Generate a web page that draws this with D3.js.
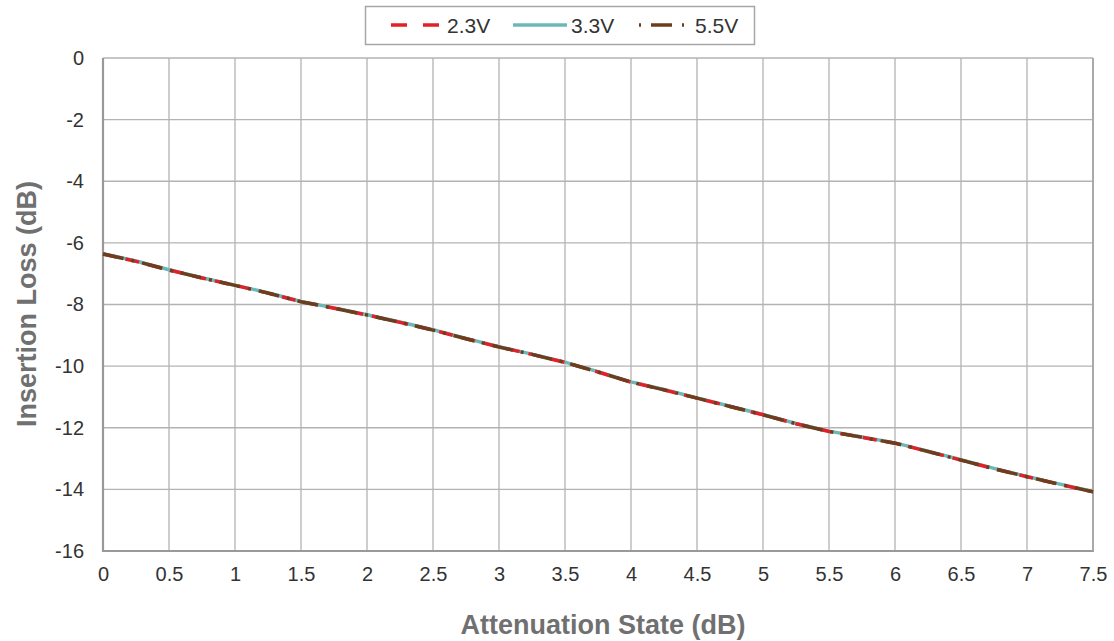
<!DOCTYPE html>
<html><head><meta charset="utf-8">
<script src="https://cdn.jsdelivr.net/npm/d3@7"></script>
<style>body{margin:0;background:#fff;} svg{display:block;font-family:"Liberation Sans",Arial,sans-serif;}</style>
</head><body>
<svg id="c" width="1114" height="641"></svg>
<script>
const states = [0,0.25,0.5,0.75,1,1.25,1.5,1.75,2,2.25,2.5,2.75,3,3.25,3.5,3.75,4,4.25,4.5,4.75,5,5.25,5.5,5.75,6,6.25,6.5,6.75,7,7.25,7.5];
const loss23 = [-6.36,-6.60,-6.88,-7.14,-7.38,-7.63,-7.91,-8.12,-8.34,-8.58,-8.83,-9.11,-9.38,-9.62,-9.88,-10.19,-10.52,-10.77,-11.04,-11.31,-11.58,-11.87,-12.12,-12.31,-12.50,-12.77,-13.05,-13.33,-13.59,-13.84,-14.08];
const loss33 = [-6.35,-6.59,-6.87,-7.13,-7.37,-7.62,-7.90,-8.11,-8.33,-8.57,-8.82,-9.10,-9.37,-9.61,-9.87,-10.18,-10.51,-10.76,-11.03,-11.30,-11.57,-11.86,-12.11,-12.30,-12.49,-12.76,-13.04,-13.32,-13.58,-13.83,-14.07];
const loss55 = [-6.36,-6.60,-6.88,-7.14,-7.38,-7.63,-7.91,-8.12,-8.34,-8.58,-8.83,-9.11,-9.38,-9.62,-9.88,-10.19,-10.52,-10.77,-11.04,-11.31,-11.58,-11.87,-12.12,-12.31,-12.50,-12.77,-13.05,-13.33,-13.59,-13.84,-14.08];
const xTicks = [0,0.5,1,1.5,2,2.5,3,3.5,4,4.5,5,5.5,6,6.5,7,7.5];
const yTicks = [0,-2,-4,-6,-8,-10,-12,-14,-16];
const seriesNames = ["2.3V","3.3V","5.5V"];
const xTitle = "Attenuation State (dB)";
const yTitle = "Insertion Loss (dB)";

const svg = d3.select("#c");
const L=103,R=1093,T=58,B=551;
const x = d3.scaleLinear().domain([0,7.5]).range([L,R]);
const y = d3.scaleLinear().domain([-16,0]).range([B,T]);

// grid
const g = svg.append("g");
g.selectAll(".vx").data(xTicks).enter().append("line")
  .attr("x1",d=>x(d)).attr("x2",d=>x(d)).attr("y1",T).attr("y2",B)
  .attr("stroke","#b3b3b3").attr("stroke-width",1.3);
g.selectAll(".hy").data(yTicks).enter().append("line")
  .attr("y1",d=>y(d)).attr("y2",d=>y(d)).attr("x1",L).attr("x2",R)
  .attr("stroke","#b3b3b3").attr("stroke-width",1.3);
// axes lines
svg.append("line").attr("x1",L).attr("x2",L).attr("y1",T).attr("y2",B+1).attr("stroke","#999").attr("stroke-width",2.2);
svg.append("line").attr("x1",L-1).attr("x2",R+1).attr("y1",B).attr("y2",B).attr("stroke","#999").attr("stroke-width",2.2);
svg.append("line").attr("x1",R).attr("x2",R).attr("y1",T).attr("y2",B).attr("stroke","#a6a6a6").attr("stroke-width",1.8);

// tick labels via axes
const xa = svg.append("g").attr("transform",`translate(0,${B})`)
  .call(d3.axisBottom(x).tickValues(xTicks).tickSize(0).tickPadding(16).tickFormat(d3.format("")));
xa.select(".domain").remove();
xa.selectAll("text").attr("font-size",20).attr("fill","#333").attr("font-family","Liberation Sans, Arial, sans-serif");
const ya = svg.append("g").attr("transform",`translate(${L},0)`)
  .call(d3.axisLeft(y).tickValues(yTicks).tickSize(0).tickPadding(19).tickFormat(d=>d===0?"0":"-"+Math.abs(d)));
ya.select(".domain").remove();
ya.selectAll("text").attr("font-size",20).attr("fill","#333").attr("font-family","Liberation Sans, Arial, sans-serif");

// titles
svg.append("text").attr("x",603).attr("y",634).attr("text-anchor","middle")
  .attr("font-size",27).attr("font-weight","bold").attr("fill","#707070").text(xTitle);
svg.append("text").attr("transform","translate(36,304) rotate(-90)").attr("text-anchor","middle")
  .attr("font-size",27).attr("font-weight","bold").attr("fill","#707070").text(yTitle);

// lines
const line = d3.line().x((d,i)=>x(states[i])).y(d=>y(d));
const styles = [
  {data:loss33,color:"#6cb8b8",dash:null},
  {data:loss23,color:"#e2202a",dash:"14,9"},
  {data:loss55,color:"#6b3f1e",dash:"21,8,3,8"}
];
styles.forEach(s=>{
  const p = svg.append("path").datum(s.data).attr("d",line).attr("fill","none")
    .attr("stroke",s.color).attr("stroke-width",3.5);
  if(s.dash) p.attr("stroke-dasharray",s.dash);
});

// legend
const lg = svg.append("g");
lg.append("rect").attr("x",365.5).attr("y",6.5).attr("width",389).attr("height",38)
  .attr("fill","#fff").attr("stroke","#a6a6a6").attr("stroke-width",1.5);
const legItems = [
  {name:seriesNames[0],color:"#e2202a",dash:"16,16",x1:391,x2:439,tx:447},
  {name:seriesNames[1],color:"#6cb8b8",dash:null,x1:513,x2:567,tx:571},
  {name:seriesNames[2],color:"#6b3f1e",dash:"2,10,21,10,2",x1:639,x2:686,tx:695}
];
legItems.forEach(it=>{
  const l = lg.append("line").attr("x1",it.x1).attr("x2",it.x2).attr("y1",25).attr("y2",25)
    .attr("stroke",it.color).attr("stroke-width",3.5);
  if(it.dash) l.attr("stroke-dasharray",it.dash);
  lg.append("text").attr("x",it.tx).attr("y",32.5).attr("font-size",21).attr("fill","#333").text(it.name);
});
</script>
</body></html>
